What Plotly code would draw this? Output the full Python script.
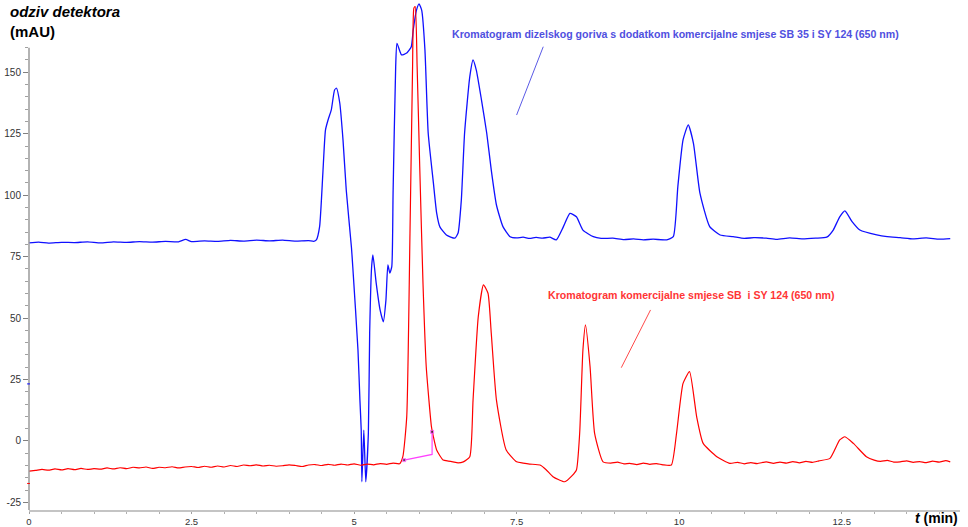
import plotly.graph_objects as go

# ---------------- data (t in min, response in mAU) ----------------
blue_t = [0.00, 0.15, 0.30, 0.50, 0.70, 0.90, 1.10, 1.30, 1.50, 1.70, 1.90, 2.10, 2.30, 2.41, 2.50,
          2.70, 2.90, 3.10, 3.30, 3.50, 3.70, 3.90, 4.10, 4.30, 4.38,
          4.42, 4.47, 4.52, 4.56, 4.60, 4.65, 4.70, 4.73, 4.78, 4.83, 4.88, 4.96, 4.98, 5.06,
          5.09, 5.11, 5.12, 5.15, 5.18, 5.22, 5.24, 5.27, 5.29, 5.34, 5.40, 5.45, 5.49, 5.52,
          5.55, 5.58, 5.60, 5.64, 5.66, 5.73, 5.81, 5.88, 5.91, 5.96, 6.00, 6.04, 6.09, 6.14,
          6.22, 6.27, 6.32, 6.42, 6.55, 6.60, 6.65, 6.70, 6.78, 6.83, 6.88, 6.96, 7.04, 7.11,
          7.19, 7.29, 7.40, 7.50, 7.60, 7.70, 7.80, 7.90, 8.01, 8.11, 8.22, 8.32, 8.42, 8.52,
          8.68, 8.80, 8.98, 9.15, 9.30, 9.45, 9.60, 9.81, 9.91, 9.98, 10.06, 10.14, 10.22,
          10.32, 10.47, 10.63, 10.83, 11.00, 11.15, 11.34, 11.50, 11.70, 11.90, 12.10, 12.27,
          12.37, 12.47, 12.55, 12.66, 12.78, 13.04, 13.20, 13.40, 13.60, 13.80, 14.00, 14.17]
blue_v = [80.6, 80.9, 80.5, 80.8, 80.7, 81.0, 80.6, 81.0, 80.8, 81.1, 80.9, 81.2, 81.0, 82.0, 81.1,
          81.4, 81.2, 81.6, 81.3, 81.7, 81.4, 81.7, 81.3, 81.5, 81.2,
          81.8, 87.2, 108.9, 126.5, 130.6, 134.7, 142.8, 143.5, 137.5, 122.4, 102.0, 78.6, 70.9, 37.0,
          16.6, 4.4, -16.6, 4.4, -16.6, 3.2, 44.0, 70.9, 75.7, 64.3, 53.3, 48.5, 57.3, 71.6,
          68.3, 70.9, 100.9, 152.3, 161.8, 157.1, 157.8, 160.4, 167.2, 175.3, 177.8, 175.3, 159.1, 125.3,
          105.0, 92.8, 87.1, 83.8, 82.5, 84.6, 98.1, 125.3, 148.2, 155.0, 150.9, 138.7, 125.3, 110.3,
          96.0, 87.2, 83.1, 82.6, 82.9, 82.4, 82.8, 82.5, 82.9, 81.8, 87.2, 92.6, 91.2, 85.8,
          83.1, 82.4, 82.5, 81.9, 82.2, 81.8, 82.1, 81.8, 83.1, 103.5, 122.5, 128.6, 121.1,
          100.8, 87.2, 83.8, 83.1, 82.4, 82.7, 82.5, 82.0, 82.6, 82.2, 82.5, 82.9,
          85.8, 91.2, 93.6, 89.2, 85.8, 83.8, 83.1, 82.7, 82.2, 82.6, 82.1, 82.3]

red_t = [0.0, 0.1, 0.2, 0.3, 0.4, 0.5, 0.6, 0.7, 0.8, 0.9, 1.0, 1.1, 1.2, 1.3, 1.4, 1.5, 1.6, 1.7,
         1.8, 1.9, 2.0, 2.1, 2.2, 2.3, 2.4, 2.5, 2.6, 2.7, 2.8, 2.9, 3.0, 3.1, 3.2, 3.3, 3.4, 3.5,
         3.6, 3.7, 3.8, 3.9, 4.0, 4.1, 4.2, 4.3, 4.4, 4.5, 4.6, 4.7, 4.8, 4.9, 5.0, 5.1, 5.2, 5.3,
         5.4, 5.5, 5.6, 5.70,
         5.75, 5.81, 5.86, 5.90, 5.92, 5.94, 5.97, 6.01, 6.06, 6.11, 6.19, 6.22, 6.27, 6.37, 6.45,
         6.52, 6.60, 6.68, 6.78, 6.83, 6.91, 6.99, 7.06, 7.11, 7.19, 7.34, 7.50, 7.60, 7.70, 7.86,
         7.95, 8.06, 8.15, 8.24, 8.35, 8.42, 8.47, 8.52, 8.56, 8.63, 8.70, 8.83, 8.95, 9.05, 9.15,
         9.24, 9.35, 9.45, 9.55, 9.65, 9.75, 9.88, 9.96, 10.06, 10.16, 10.27, 10.37, 10.58, 10.78,
         10.90, 11.00, 11.10, 11.20, 11.34, 11.45, 11.55, 11.65, 11.75, 11.85, 11.95, 12.05, 12.15,
         12.32, 12.47, 12.55, 12.68, 12.88, 13.00, 13.10, 13.20, 13.30, 13.40, 13.50, 13.60, 13.70,
         13.80, 13.90, 14.00, 14.10, 14.17]
red_v = [-12.3, -12.0, -11.6, -11.9, -11.4, -11.8, -11.3, -11.7, -11.2, -11.6, -11.3, -11.5, -11.0,
         -11.4, -10.9, -11.3, -10.7, -11.0, -10.6, -11.2, -10.7, -10.9, -10.5, -11.0, -10.6, -10.4,
         -10.8, -10.3, -10.7, -10.2, -10.6, -10.0, -10.4, -9.8, -10.1, -9.7, -10.2, -9.9, -10.3,
         -10.1, -9.7, -10.0, -10.4, -9.8, -9.6, -10.0, -9.5, -9.9, -9.4, -9.8, -9.3, -9.9, -9.4,
         -9.7, -9.2, -9.5, -9.0, -9.3,
         -6.4, 9.8, 84.5, 152.3, 176.1, 176.7, 152.3, 111.6, 64.3, 30.2, 5.8, 1.7, -3.7, -7.8, -8.2,
         -8.5, -8.9, -8.5, -6.4, 16.6, 50.5, 63.5, 60.1, 43.9, 16.6, -3.7, -8.5, -9.0, -9.4, -9.8,
         -11.6, -14.6, -15.8, -16.6, -14.2, -11.8, 3.1, 37.0, 47.2, 30.2, 3.1, -8.5, -9.0, -8.6, -9.3,
         -9.1, -9.6, -9.0, -9.5, -9.2, -9.7, -9.8, 3.1, 23.4, 28.2, 9.8, -1.0, -6.4, -9.1,
         -8.7, -9.3, -8.8, -9.2, -8.5, -9.1, -8.6, -9.0, -8.4, -8.9, -8.3, -8.7, -8.1,
         -7.1, 0.4, 1.7, -1.0, -6.4, -7.8, -8.3, -7.9, -8.6, -8.5, -8.1, -8.7, -8.4,
         -8.8, -8.2, -8.6, -8.0, -8.5]

base_t = [5.77, 6.20, 6.20]
base_v = [-7.8, -5.5, 3.7]

y_ticks = [-25, 0, 25, 50, 75, 100, 125, 150]
y_ticktext = ["-25", "0", "25", "50", "75", "100", "125", "150"]
y_minor = [-25, -20, -15, -10, -5, 0, 5, 10, 15, 20, 25, 30, 35, 40, 45, 50, 55, 60, 65, 70,
           75, 80, 85, 90, 95, 100, 105, 110, 115, 120, 125, 130, 135, 140, 145, 150, 155, 160]
x_ticks = [0, 2.5, 5, 7.5, 10, 12.5]
x_ticktext = ["0", "2.5", "5", "7.5", "10", "12.5"]

blue_label = "Kromatogram dizelskog goriva s dodatkom komercijalne smjese SB 35 i SY 124 (650 nm)"
red_label = "Kromatogram komercijalne smjese SB  i SY 124 (650 nm)"

FONT = "Liberation Sans, Arial, sans-serif"

fig = go.Figure()
fig.add_trace(go.Scatter(x=blue_t, y=blue_v, mode="lines",
                         line=dict(color="#1010ff", width=1.3, shape="spline", smoothing=0.5),
                         showlegend=False))
fig.add_trace(go.Scatter(x=red_t, y=red_v, mode="lines",
                         line=dict(color="#ff0000", width=1.2, shape="spline", smoothing=0.5),
                         showlegend=False))
fig.add_trace(go.Scatter(x=base_t, y=base_v, mode="lines+markers",
                         line=dict(color="#ff40ff", width=1.2),
                         marker=dict(color="#202020", size=[3, 0, 3], symbol="square"),
                         showlegend=False))

# leader lines
fig.add_shape(type="line", x0=7.91, y0=160.4, x1=7.50, y1=132.6,
              line=dict(color="#5a5ae6", width=1))
fig.add_shape(type="line", x0=9.56, y0=53.3, x1=9.11, y1=29.8,
              line=dict(color="#ff4a4a", width=1))
# y axis line (only up to 160)
fig.add_shape(type="line", xref="paper", x0=0, x1=0, yref="y", y0=-28.1, y1=160,
              line=dict(color="#9a9a9a", width=1.5))
# small channel offset markers
fig.add_shape(type="line", xref="paper", x0=-0.002, x1=0.001, yref="y", y0=23.2, y1=23.2,
              line=dict(color="#0000ff", width=1))
fig.add_shape(type="line", xref="paper", x0=-0.002, x1=0.001, yref="y", y0=-17.3, y1=-17.3,
              line=dict(color="#ff0000", width=1))

fig.add_annotation(x=9.94, y=165.6, text="<b>" + blue_label + "</b>", showarrow=False,
                   font=dict(family=FONT, size=10.6, color="#5050e0"))
fig.add_annotation(x=10.19, y=59.4, text="<b>" + red_label + "</b>", showarrow=False,
                   font=dict(family=FONT, size=10.6, color="#ff3535"))

fig.add_annotation(xref="paper", yref="paper", x=-0.023, y=1.0, xanchor="left", yanchor="top",
                   align="left", showarrow=False,
                   text="<b><i>odziv detektora</i></b><br><b>(mAU)</b>",
                   font=dict(family=FONT, size=15, color="#000000"))
fig.add_annotation(xref="paper", yref="paper", x=1.0, y=0.0, xanchor="right", yanchor="middle",
                   yshift=-8, showarrow=False,
                   text="<b><i>t</i> (min)</b>",
                   font=dict(family=FONT, size=14, color="#000000"))

fig.update_layout(
    width=968, height=527,
    margin=dict(l=29, r=8, t=1, b=17, autoexpand=False),
    paper_bgcolor="white", plot_bgcolor="white",
    xaxis=dict(range=[0, 14.32], showgrid=False, zeroline=False,
               showline=True, linecolor="#c4c4c4", linewidth=2,
               tickmode="array", tickvals=x_ticks, ticktext=x_ticktext,
               ticks="outside", ticklen=2, tickcolor="#a0a0a0", tickwidth=1,
               tickfont=dict(family=FONT, size=9.5, color="#333333"),
               minor=dict(dtick=0.5, tick0=0, ticks="outside", ticklen=2,
                          tickcolor="#b0b0b0", showgrid=False)),
    yaxis=dict(range=[-28.1, 179.0], showgrid=False, zeroline=False, showline=False,
               tickmode="array", tickvals=y_ticks, ticktext=y_ticktext,
               ticks="outside", ticklen=5, tickcolor="#808080", tickwidth=1,
               tickfont=dict(family=FONT, size=10, color="#333333"),
               minor=dict(tickmode="array", tickvals=y_minor, ticks="outside", ticklen=3,
                          tickcolor="#a0a0a0", showgrid=False)),
)

fig.write_html("out.html", config={"displayModeBar": False},
               post_script="document.body.style.margin='0';document.body.style.overflow='hidden';")
